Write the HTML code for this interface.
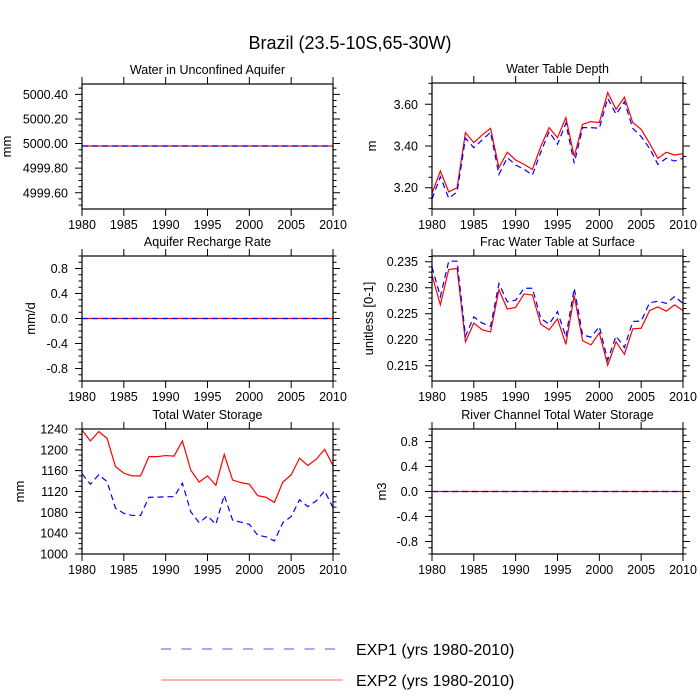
<!DOCTYPE html>
<html><head><meta charset="utf-8"><style>
body{margin:0;background:#fff}
svg{display:block;font-family:"Liberation Sans",Arial,sans-serif}
</style></head><body>
<svg id="chart" width="700" height="700" viewBox="0 0 700 700">
<text x="350" y="49" font-size="18" text-anchor="middle">Brazil (23.5-10S,65-30W)</text>
<g id="panels"></g>
<g>
<line x1="161" y1="649" x2="340" y2="649" stroke="#5050ff" stroke-width="1" stroke-dasharray="10,10.5"/>
<text x="356" y="655" font-size="16">EXP1 (yrs 1980-2010)</text>
<line x1="161" y1="680" x2="343" y2="680" stroke="#ff6060" stroke-width="1"/>
<text x="356" y="686" font-size="16">EXP2 (yrs 1980-2010)</text>
</g>
</svg>
<script>
const years = [];
for (let y = 1980; y <= 2010; y++) years.push(y);
const xTicks = [1980,1985,1990,1995,2000,2005,2010];

const wtdExp2 = [3.173,3.28,3.18,3.20,3.464,3.416,3.453,3.485,3.296,3.37,3.333,3.312,3.288,3.397,3.488,3.44,3.536,3.349,3.504,3.517,3.512,3.656,3.576,3.634,3.512,3.48,3.413,3.341,3.37,3.357,3.363];
const wtdExp1 = [3.146,3.253,3.149,3.18,3.437,3.392,3.429,3.466,3.264,3.344,3.309,3.288,3.261,3.37,3.469,3.408,3.509,3.317,3.488,3.488,3.485,3.629,3.552,3.612,3.485,3.445,3.389,3.312,3.341,3.328,3.341];
const fracExp2 = [0.2324,0.2267,0.2335,0.2337,0.2196,0.2232,0.2219,0.2215,0.2296,0.2259,0.2262,0.2288,0.2286,0.223,0.2219,0.224,0.2191,0.2285,0.2198,0.219,0.2213,0.2151,0.2196,0.2172,0.2221,0.2222,0.2256,0.2263,0.2255,0.2267,0.2256];
const fracExp1 = [0.234,0.2283,0.2351,0.2351,0.2207,0.2244,0.2232,0.2226,0.2308,0.2273,0.2276,0.2299,0.2299,0.2241,0.223,0.2254,0.2205,0.2299,0.2209,0.2205,0.2225,0.2161,0.2207,0.2185,0.2235,0.2236,0.2271,0.2274,0.227,0.2283,0.227];
const twsExp2 = [1238,1217,1235,1222,1168,1155,1150,1150,1187,1187,1189,1188,1217,1161,1138,1150,1132,1191,1142,1137,1134,1112,1109,1099,1138,1152,1184,1170,1182,1201,1170];
const twsExp1 = [1154,1134,1152,1139,1088,1078,1074,1074,1109,1109,1110,1110,1136,1081,1060,1073,1057,1113,1065,1061,1057,1036,1033,1025,1060,1072,1104,1091,1102,1121,1089];
const aquiferExp = years.map(() => 4999.98);
const zeroExp = years.map(() => 0);

const panels = [
 {name:'water-in-unconfined-aquifer', title:'Water in Unconfined Aquifer', ylab:'mm', x0:82, x1:333, y0:84, y1:209, ymin:4999.468, ymax:5000.484, ticks:[5000.4,5000.2,5000.0,4999.8,4999.6], dec:2, minor:0.05, e1:aquiferExp, e2:aquiferExp, labx:11},
 {name:'water-table-depth', title:'Water Table Depth', ylab:'m', x0:432, x1:683, y0:83, y1:209, ymin:3.098, ymax:3.702, ticks:[3.6,3.4,3.2], dec:2, minor:0.05, e1:wtdExp1, e2:wtdExp2, labx:376},
 {name:'aquifer-recharge-rate', title:'Aquifer Recharge Rate', ylab:'mm/d', x0:82, x1:333, y0:256, y1:381, ymin:-1, ymax:1, ticks:[0.8,0.4,0,-0.4,-0.8], dec:1, minor:0.1, e1:zeroExp, e2:zeroExp, labx:35},
 {name:'frac-water-table-at-surface', title:'Frac Water Table at Surface', ylab:'unitless [0-1]', x0:432, x1:683, y0:256, y1:381, ymin:0.21206, ymax:0.2361, ticks:[0.235,0.23,0.225,0.22,0.215], dec:3, minor:0.001, e1:fracExp1, e2:fracExp2, labx:373},
 {name:'total-water-storage', title:'Total Water Storage', ylab:'mm', x0:82, x1:333, y0:429, y1:554, ymin:1000, ymax:1240, ticks:[1240,1200,1160,1120,1080,1040,1000], dec:0, minor:10, e1:twsExp1, e2:twsExp2, labx:24},
 {name:'river-channel-total-water-storage', title:'River Channel Total Water Storage', ylab:'m3', x0:432, x1:683, y0:429, y1:554, ymin:-1, ymax:1, ticks:[0.8,0.4,0,-0.4,-0.8], dec:1, minor:0.1, e1:zeroExp, e2:zeroExp, labx:386}
];
const NS='http://www.w3.org/2000/svg';
const root=document.getElementById('panels');
function mk(tag, attrs, parent){const e=document.createElementNS(NS,tag);for(const k in attrs)e.setAttribute(k,attrs[k]);parent.appendChild(e);return e;}
panels.forEach(p=>{
  const g=mk('g',{},root);
  
  
  const sx=v=>p.x0+(v-1980)/30*(p.x1-p.x0);
  const sy=v=>p.y1-(v-p.ymin)/(p.ymax-p.ymin)*(p.y1-p.y0);
  const t=mk('text',{x:(p.x0+p.x1)/2,y:p.y0-10,'font-size':12.5,'text-anchor':'middle'},g);
  t.textContent=p.title;
  
  
  const yl=mk('text',{x:0,y:0,'font-size':13,'text-anchor':'middle',transform:`translate(${p.labx},${(p.y0+p.y1)/2}) rotate(-90)`},g);
  yl.textContent=p.ylab;
  
  
  let d='';
  xTicks.forEach(v=>{const x=sx(v);d+=`M${x},${p.y1}v7M${x},${p.y0}v-7`;
    const lt=mk('text',{x:x,y:p.y1+20,'font-size':12.5,'text-anchor':'middle'},g);
    lt.textContent=v;
    
    
  });
  const start=Math.ceil((p.ymin-1e-9)/p.minor);
  for(let i=start;i*p.minor<=p.ymax+1e-9;i++){const v=i*p.minor;const y=sy(v);d+=`M${p.x0},${y}h-3.5M${p.x1},${y}h3.5`;}
  p.ticks.forEach(v=>{const y=sy(v);d+=`M${p.x0},${y}h-7M${p.x1},${y}h7`;
    const lt=mk('text',{x:p.x0-14,y:y+4.5,'font-size':12.5,'text-anchor':'end'},g);
    lt.textContent=v.toFixed(p.dec);
    
    
  });
  const tk=mk('path',{d:d,stroke:'#000','stroke-width':1,fill:'none'},g);
  
  
  const s2=mk('polyline',{points:years.map((y,i)=>sx(y)+','+sy(p.e2[i])).join(' '),fill:'none',stroke:'#ff0000','stroke-width':1.2},g);
  
  
  const s1=mk('polyline',{points:years.map((y,i)=>sx(y)+','+sy(p.e1[i])).join(' '),fill:'none',stroke:'#0000ff','stroke-width':1.2,'stroke-dasharray':'6,4'},g);
  
  
  const fr=mk('rect',{x:p.x0,y:p.y0,width:p.x1-p.x0,height:p.y1-p.y0,fill:'none',stroke:'#000','stroke-width':1.2},g);
  
  
});
</script>
</body></html>
